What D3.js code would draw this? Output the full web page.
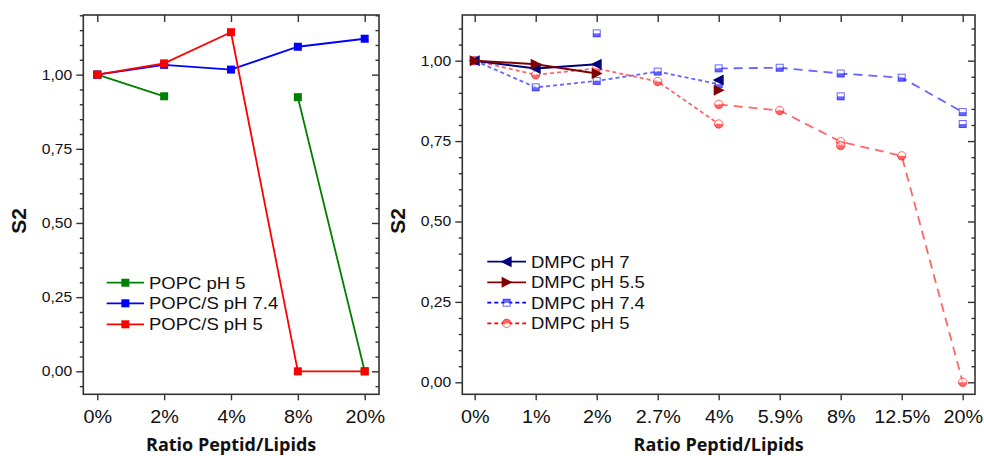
<!DOCTYPE html>
<html><head><meta charset="utf-8">
<script src="https://cdn.jsdelivr.net/npm/d3@7"></script>
<style>body{margin:0;background:#fff}svg{display:block}</style>
</head><body>
<svg id="c" width="984" height="456"></svg>
<script>
// ---------- data ----------
const leftCategories = ["0%","2%","4%","8%","20%"];
const popcPh5   = [1.00, 0.927, null, 0.924, 0.00];
const popcSPh74 = [1.00, 1.033, 1.017, 1.094, 1.121];
const popcSPh5  = [1.00, 1.038, 1.143, 0.00, 0.00];

const rightCategories = ["0%","1%","2%","2.7%","4%","5.9%","8%","12.5%","20%"];
const dmpcPh7     = [1.00, 0.976, 0.989, null, 0.940, null, null, null, null];
const dmpcPh55    = [1.00, 0.989, 0.960, null, 0.908, null, null, null, null];
const dmpcPh74a   = [1.00, 0.917, 0.937, 0.966, 0.927, null, null, null, null];
const dmpcPh74b   = [null, null, null, null, 0.976, 0.978, 0.960, 0.947, 0.840];
const dmpcPh74x   = [null, null, 1.085, null, null, null, 0.889, null, 0.803];
const dmpcPh5a    = [1.00, 0.956, 0.976, 0.935, 0.803, null, null, null, null];
const dmpcPh5b    = [null, null, null, null, 0.864, 0.845, 0.748, 0.704, 0.00];
const dmpcPh5x    = [null, null, null, null, null, null, 0.736, null, null];

const yMajorTicks = [0, 0.25, 0.5, 0.75, 1.0];
const xTitle = "Ratio Peptid/Lipids";
const yTitle = "S2";

// ---------- helpers ----------
const svg = d3.select("#c");
const loc = d3.formatLocale({decimal: ",", thousands: ".", grouping: [3], currency: ["", ""]});
const fmt = loc.format(".2f");
const TICKFONT = "'Liberation Sans', Arial, sans-serif";
const SX = 1.12; // horizontal stretch of the original export's text

function panel(cfg) {
  const g = svg.append("g");
  const x = d3.scalePoint().domain(cfg.cats).range([cfg.x0, cfg.x1]);
  const y = d3.scaleLinear().domain(cfg.yDomain).range([cfg.bottom, cfg.top]);
  const minor = d3.range(Math.ceil(cfg.yDomain[0] / 0.05), Math.floor(cfg.yDomain[1] / 0.05) + 1)
    .map(i => +(i * 0.05).toFixed(2)).filter(v => !yMajorTicks.some(m => Math.abs(m - v) < 1e-6));

  const styleAxis = sel => { sel.select(".domain").remove(); sel.selectAll("line").attr("stroke", "#333").attr("stroke-width", 1.4); };
  g.append("g").attr("transform", `translate(${cfg.left},0)`)
    .call(d3.axisLeft(y).tickValues(yMajorTicks).tickFormat(fmt).tickSize(7).tickPadding(4))
    .call(styleAxis)
    .selectAll("text").attr("font-family", TICKFONT).attr("font-size", 14).attr("fill", "#111")
    .attr("x", -11 / SX).attr("transform", `scale(${SX},1)`);
  g.append("g").attr("transform", `translate(${cfg.left},0)`)
    .call(d3.axisLeft(y).tickValues(minor).tickFormat("").tickSize(3.5)).call(styleAxis);
  g.append("g").attr("transform", `translate(${cfg.right},0)`)
    .call(d3.axisLeft(y).tickValues(yMajorTicks).tickFormat("").tickSize(7)).call(styleAxis);
  g.append("g").attr("transform", `translate(${cfg.right},0)`)
    .call(d3.axisLeft(y).tickValues(minor).tickFormat("").tickSize(3.5)).call(styleAxis);
  g.append("g").attr("transform", `translate(0,${cfg.bottom})`)
    .call(d3.axisBottom(x).tickSize(6).tickPadding(10))
    .call(styleAxis)
    .selectAll("text").attr("font-family", TICKFONT).attr("font-size", 18.5).attr("fill", "#111")
    .attr("transform", "scale(1.07,1)");
  g.append("g").attr("transform", `translate(0,${cfg.top})`)
    .call(d3.axisBottom(x).tickSize(7).tickFormat("")).call(styleAxis);

  g.append("rect").attr("x", cfg.left).attr("y", cfg.top)
    .attr("width", cfg.right - cfg.left).attr("height", cfg.bottom - cfg.top)
    .attr("fill", "none").attr("stroke", "#333").attr("stroke-width", 1.6);

  const cx = (cfg.left + cfg.right) / 2;
  g.append("text").attr("x", cx / 1.06).attr("y", 451.5).attr("transform", "scale(1.06,1)")
    .attr("text-anchor", "middle").attr("font-family", "'Open Sans', sans-serif")
    .attr("font-weight", "bold").attr("font-size", 17).attr("fill", "#111").text(xTitle);
  g.append("text").attr("transform", `translate(${cfg.yTitleX},221) rotate(-90)`)
    .attr("text-anchor", "middle").attr("dy", "0.36em").attr("font-family", TICKFONT)
    .attr("font-weight", "bold").attr("font-size", 21).attr("fill", "#111").text(yTitle);

  return {g, x, y};
}

function marker(sel, shape, color, fillHalf, opacity) {
  if (shape === "square") {
    const s = fillHalf ? 7 : 8;
    if (fillHalf) {
      sel.append("rect").attr("x", -s/2).attr("y", -s/2).attr("width", s).attr("height", s)
        .attr("fill", "#fff").attr("stroke", color).attr("stroke-width", 1).attr("opacity", opacity);
      sel.append("rect").attr("x", -s/2).attr("y", fillHalf === "top" ? -s/2 : 0).attr("width", s).attr("height", s/2)
        .attr("fill", color).attr("opacity", opacity);
    } else {
      sel.append("rect").attr("x", -s/2).attr("y", -s/2).attr("width", s).attr("height", s).attr("fill", color);
    }
  } else if (shape === "circle") {
    const r = 4.2;
    sel.append("circle").attr("r", r).attr("fill", "#fff").attr("stroke", color).attr("stroke-width", 1).attr("opacity", opacity);
    const a = fillHalf === "top" ? `M${-r},0 A${r},${r} 0 0 1 ${r},0 Z` : `M${-r},0 A${r},${r} 0 0 0 ${r},0 Z`;
    sel.append("path").attr("d", a).attr("fill", color).attr("opacity", opacity);
  } else if (shape === "triLeft") {
    sel.append("path").attr("d", "M-6,0 L5,-5.5 L5,5.5 Z").attr("fill", color);
  } else if (shape === "triRight") {
    sel.append("path").attr("d", "M6,0 L-5,-5.5 L-5,5.5 Z").attr("fill", color);
  }
}

function series(p, cats, vals, opt) {
  const pts = cats.map((c, i) => ({c, v: vals[i]}));
  if (opt.line !== false) {
    const line = d3.line().defined(d => d.v !== null).x(d => p.x(d.c)).y(d => p.y(d.v));
    p.g.append("path").datum(pts).attr("d", line).attr("fill", "none")
      .attr("stroke", opt.color).attr("stroke-width", opt.width || 1.8)
      .attr("stroke-dasharray", opt.dash || null).attr("opacity", opt.opacity || 1);
  }
  pts.filter(d => d.v !== null).forEach(d => {
    const m = p.g.append("g").attr("transform", `translate(${p.x(d.c)},${p.y(d.v)})`);
    marker(m, opt.shape, opt.color, opt.half, opt.opacity || 1);
  });
}

function legend(g, x0, x1, textX, rows) {
  const LS = 1.14;
  rows.forEach(r => {
    g.append("line").attr("x1", x0).attr("x2", x1).attr("y1", r.y).attr("y2", r.y)
      .attr("stroke", r.color).attr("stroke-width", 1.8).attr("stroke-dasharray", r.dash || null);
    const m = g.append("g").attr("transform", `translate(${(x0 + x1) / 2},${r.y})`);
    marker(m, r.shape, r.mColor || r.color, r.half, r.opacity || 1);
    g.append("text").attr("x", textX / LS).attr("y", r.y).attr("dy", "0.36em")
      .attr("transform", `scale(${LS},1)`)
      .attr("font-family", TICKFONT).attr("font-size", 16.2).attr("fill", "#111").text(r.label);
  });
}

// ---------- left panel ----------
const L = panel({cats: leftCategories, x0: 97.3, x1: 364.7, left: 83.3, right: 379, top: 15, bottom: 394.3,
  yDomain: [-0.0775, 1.201], yTitleX: 18.5});
series(L, leftCategories, popcPh5,   {color: "#008000", shape: "square"});
series(L, leftCategories, popcSPh74, {color: "#0000ff", shape: "square"});
series(L, leftCategories, popcSPh5,  {color: "#ff0000", shape: "square"});
legend(L.g, 106.7, 144, 149, [
  {y: 282.7, color: "#008000", shape: "square", label: "POPC pH 5"},
  {y: 303.3, color: "#0000ff", shape: "square", label: "POPC/S pH 7.4"},
  {y: 324.3, color: "#ff0000", shape: "square", label: "POPC/S pH 5"}
]);

// ---------- right panel ----------
const R = panel({cats: rightCategories, x0: 474.7, x1: 962.7, left: 462.3, right: 975, top: 15, bottom: 394.3,
  yDomain: [-0.0373, 1.142], yTitleX: 397});
const lb = "#0000ff", lr = "#ff0000", op = 0.6;
series(R, rightCategories, dmpcPh74a, {color: lb, shape: "square", half: "bottom", dash: "4,3", opacity: op});
series(R, rightCategories, dmpcPh74b, {color: lb, shape: "square", half: "bottom", dash: "9,6", opacity: op});
series(R, rightCategories, dmpcPh74x, {color: lb, shape: "square", half: "bottom", line: false, opacity: op});
series(R, rightCategories, dmpcPh5a,  {color: lr, shape: "circle", half: "bottom", dash: "4,3", opacity: op});
series(R, rightCategories, dmpcPh5b,  {color: lr, shape: "circle", half: "bottom", dash: "9,6", opacity: op});
series(R, rightCategories, dmpcPh5x,  {color: lr, shape: "circle", half: "bottom", line: false, opacity: op});
series(R, rightCategories, dmpcPh7,   {color: "#00007f", shape: "triLeft", width: 2});
series(R, rightCategories, dmpcPh55,  {color: "#7f0000", shape: "triRight", width: 2});
legend(R.g, 487.3, 526, 531, [
  {y: 261.7, color: "#00007f", shape: "triLeft", label: "DMPC pH 7"},
  {y: 282.3, color: "#7f0000", shape: "triRight", label: "DMPC pH 5.5"},
  {y: 302.7, color: "#0000ff", dash: "4,3", shape: "square", half: "top", opacity: 0.6, label: "DMPC pH 7.4"},
  {y: 323.3, color: "#ff0000", dash: "4,3", shape: "circle", half: "top", opacity: 0.6, label: "DMPC pH 5"}
]);
</script>
</body></html>
